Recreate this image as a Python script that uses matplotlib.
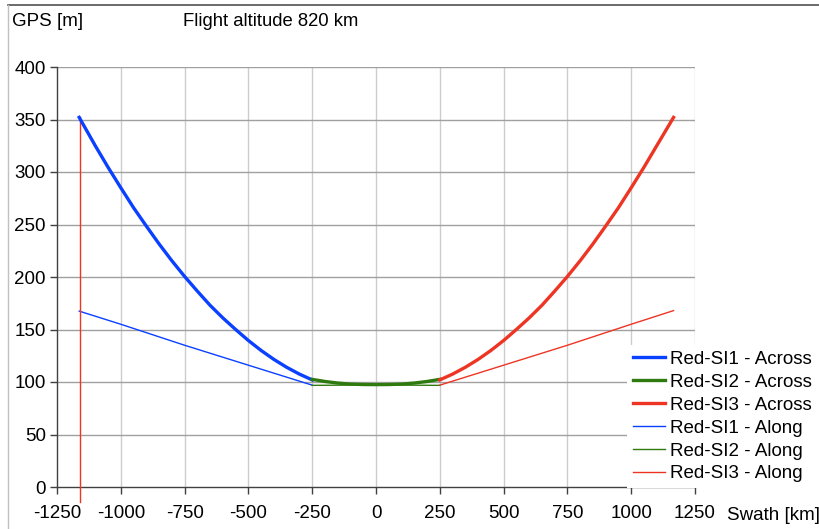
import matplotlib.pyplot as plt
from matplotlib.lines import Line2D

plt.rcParams['font.family'] = ['Liberation Sans', 'DejaVu Sans']
plt.rcParams['font.size'] = 13.5
plt.rcParams['axes.unicode_minus'] = False

# Red-SI1 (left part of swath)
si1_x = [-1163, -1100, -1050, -1000, -950, -900, -850, -800, -750, -700,
         -650, -600, -550, -500, -450, -400, -350, -300, -250]
si1_across = [352, 325, 304.5, 285, 266, 248.5, 231.5, 215.5, 200.5, 186.5,
              173, 161, 150, 139.5, 130, 121.5, 114, 107.5, 102]
si1_along_x = [-1163, -1000, -750, -500, -250]
si1_along = [167.5, 155, 135, 116, 97]

# Red-SI2 (centre)
si2_x = [-250, -200, -150, -100, -50, 0, 50, 100, 150, 200, 250]
si2_across = [102.5, 100.5, 99, 98, 97.6, 97.5, 97.6, 98, 99, 100.5, 102.5]
si2_along_x = [-250, -125, 0, 125, 250]
si2_along = [96.8, 97, 97.2, 97, 96.8]

# Red-SI3 (right part of swath)
si3_x = [250, 300, 350, 400, 450, 500, 550, 600, 650, 700,
         750, 800, 850, 900, 950, 1000, 1050, 1100, 1166]
si3_across = [102, 107.5, 114, 121.5, 130, 139.5, 150, 161, 173, 186.5,
              200.5, 215.5, 231.5, 248.5, 266, 285, 304.5, 325, 352]
si3_along_x = [250, 500, 750, 1000, 1166]
si3_along = [97, 116, 135, 155, 168]

# stray vertical segment of the SI3 along series
vline_x = [-1158, -1158]
vline_y = [-14, 352]

blue = '#0A40FF'
green = '#2F7A0E'
red = '#EE3524'

fig = plt.figure(figsize=(8.19, 5.29), dpi=100)
ax = fig.add_axes([57 / 819, 1 - 487 / 529, 638 / 819, 420 / 529])

ax.plot(si1_x, si1_across, color=blue, lw=2.4, label='Red-SI1 - Across', zorder=4)
ax.plot(si2_x, si2_across, color=green, lw=2.4, label='Red-SI2 - Across', zorder=4)
ax.plot(si3_x, si3_across, color=red, lw=2.4, label='Red-SI3 - Across', zorder=4)
ax.plot(si1_along_x, si1_along, color=blue, lw=1.0, label='Red-SI1 - Along', zorder=3)
ax.plot(si2_along_x, si2_along, color=green, lw=1.0, label='Red-SI2 - Along', zorder=3)
ax.plot(si3_along_x, si3_along, color=red, lw=1.0, label='Red-SI3 - Along', zorder=3)
ax.plot(vline_x, vline_y, color=red, lw=1.0, clip_on=False, zorder=3)

ax.set_xlim(-1250, 1250)
ax.set_ylim(0, 400)
ax.set_xticks(range(-1250, 1251, 250))
ax.set_yticks(range(0, 401, 50))

for v in range(-1000, 1251, 250):
    ax.axvline(v, color='#cccccc', lw=1.0, zorder=1)
for h in range(50, 401, 50):
    ax.axhline(h, color='#a0a0a0', lw=1.0, zorder=1)

for s in ['top', 'right']:
    ax.spines[s].set_visible(False)
for s in ['left', 'bottom']:
    ax.spines[s].set_color('#404040')
    ax.spines[s].set_linewidth(1.0)
ax.tick_params(direction='out', length=5, width=1.0, color='#404040', labelsize=13.5)
ax.tick_params(axis='x', pad=8)
ax.tick_params(axis='y', pad=3)

fig.text(12 / 819, 1 - 22 / 529, 'GPS [m]', fontsize=13.5, va='center', ha='left')
fig.text(183 / 819, 1 - 22 / 529, 'Flight altitude 820 km', fontsize=13.3, va='center', ha='left')
fig.text(727 / 819, 1 - 515 / 529, 'Swath [km]', fontsize=13.5, va='center', ha='left')

leg = ax.legend(loc='upper left', bbox_to_anchor=(627 / 819, 1 - 345 / 529),
                bbox_transform=fig.transFigure, frameon=True, fancybox=False,
                edgecolor='none', facecolor='white', framealpha=1,
                handlelength=1.75, handletextpad=0.27, labelspacing=0.31,
                borderpad=0.3, borderaxespad=0, fontsize=13.5)
leg.set_zorder(5)

# outer chart border
fig.add_artist(Line2D([8 / 819, 1], [1 - 5 / 529] * 2, color='#505050', lw=1.2))
fig.add_artist(Line2D([8 / 819] * 2, [0, 1 - 5 / 529], color='#c0c0c0', lw=1.0))

fig.savefig('out.png', dpi=100)
